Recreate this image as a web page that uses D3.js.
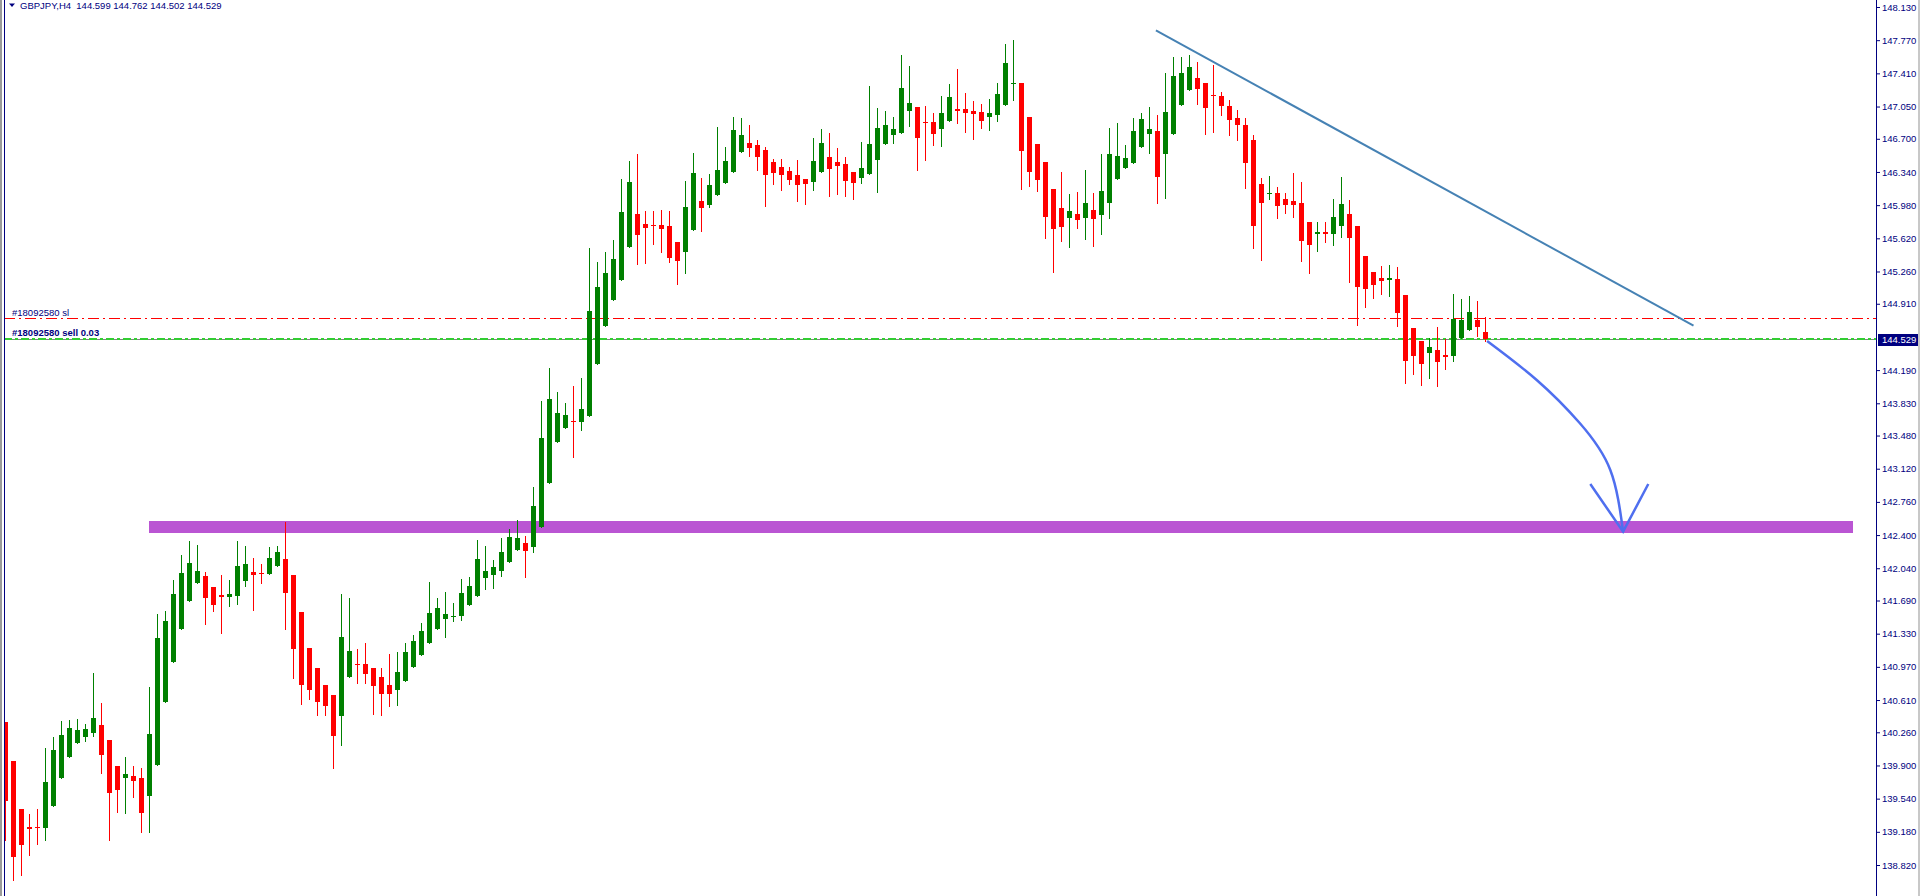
<!DOCTYPE html>
<html><head><meta charset="utf-8">
<script src="https://cdn.jsdelivr.net/npm/d3@7"></script>
<style>
html,body{margin:0;padding:0;background:#fff;overflow:hidden;}
svg{display:block;}
</style></head><body>
<svg id="c" width="1920" height="896"></svg>
<script>
// ---------- DATA ----------
const symbolLabel = "GBPJPY,H4";
const lastQuote = [144.599, 144.762, 144.502, 144.529];

const opens = [140.375,139.948,139.428,139.235,139.235,139.221,139.460,139.764,139.992,140.144,
140.209,140.252,140.339,140.176,139.894,139.764,139.786,139.764,139.569,139.905,
140.589,141.023,141.381,141.685,141.880,141.956,141.836,141.750,141.728,141.739,
141.902,141.999,141.988,141.978,142.064,142.140,141.967,141.565,141.175,140.958,
140.773,140.665,140.441,140.863,141.001,141.001,140.958,140.860,140.773,140.724,
140.821,140.968,141.099,141.229,141.381,141.493,141.511,141.522,141.641,141.739,
141.934,141.967,142.010,142.108,142.238,142.314,142.271,142.493,142.965,143.410,
143.562,143.638,143.627,143.692,144.256,144.669,144.951,145.168,145.526,145.884,
145.775,145.765,145.765,145.754,145.580,145.472,145.710,146.025,145.981,146.090,
146.220,146.340,146.557,146.654,146.633,146.578,146.448,146.394,146.350,146.307,
146.264,146.231,146.340,146.502,146.448,146.426,146.340,146.275,146.318,146.470,
146.643,146.741,146.763,147.002,147.045,146.885,146.882,146.806,146.893,147.023,
147.023,147.002,146.991,146.936,146.958,147.067,147.295,147.305,146.936,146.643,
146.448,146.155,145.949,145.840,145.884,145.840,145.927,145.873,146.003,146.264,
146.383,146.437,146.611,146.752,146.784,146.535,146.752,147.067,147.229,147.360,
147.305,147.175,147.164,147.056,146.926,146.850,146.687,146.209,146.104,146.112,
146.047,146.025,146.003,145.797,145.670,145.689,145.670,145.757,145.884,145.754,
145.428,145.254,145.189,145.171,145.179,145.005,144.647,144.506,144.379,144.408,
144.354,144.346,144.542,144.628,144.734,144.599];

const highs = [140.375,139.948,139.428,139.373,139.428,140.089,140.209,140.382,140.393,140.404,
140.350,140.903,140.578,140.176,139.894,139.992,139.894,139.872,140.751,141.543,
141.576,141.912,142.184,142.336,142.292,141.999,141.836,141.967,141.912,142.336,
142.281,142.151,142.086,142.270,142.281,142.545,141.967,141.565,141.175,140.958,
140.773,140.665,141.761,141.717,141.164,141.229,140.958,140.958,141.109,141.131,
141.229,141.316,141.446,141.891,141.717,141.782,141.663,141.923,141.945,142.346,
142.281,142.129,142.368,142.466,142.563,142.390,142.922,143.855,144.213,143.952,
143.833,144.018,144.104,145.515,145.363,145.472,145.602,146.264,146.459,146.535,
145.916,145.916,145.927,145.916,145.580,146.242,146.546,146.275,146.318,146.828,
146.611,146.936,146.926,146.850,146.687,146.611,146.481,146.481,146.394,146.470,
146.264,146.709,146.806,146.763,146.600,146.502,146.340,146.665,147.273,147.034,
147.002,146.936,147.609,147.490,147.045,147.056,146.980,147.164,147.295,147.457,
147.197,147.110,147.077,147.132,147.305,147.729,147.772,147.305,146.936,146.643,
146.448,146.155,146.340,146.101,146.123,146.361,146.112,146.535,146.817,146.871,
146.633,146.926,146.980,147.045,146.958,147.414,147.587,147.587,147.609,147.533,
147.305,147.501,147.208,147.121,147.012,146.926,146.741,146.275,146.296,146.177,
146.112,146.329,146.231,145.797,145.797,145.797,146.047,146.285,146.036,145.754,
145.428,145.254,145.320,145.330,145.309,145.005,144.647,144.506,144.542,144.658,
144.527,145.016,144.962,144.994,144.940,144.762];

const lows = [139.091,138.657,138.711,138.928,139.048,139.091,139.460,139.764,139.992,140.144,
140.165,140.220,139.818,139.091,139.395,139.384,139.558,139.178,139.178,139.905,
140.589,141.023,141.381,141.685,141.880,141.435,141.576,141.337,141.630,141.652,
141.847,141.587,141.880,141.978,142.064,141.381,140.849,140.567,140.621,140.448,
140.448,139.872,140.122,140.863,140.800,140.800,140.463,140.448,140.545,140.559,
140.821,140.968,141.099,141.229,141.381,141.294,141.468,141.478,141.641,141.739,
141.815,141.826,141.956,142.108,142.238,141.945,142.216,142.493,142.965,143.410,
143.562,143.247,143.540,143.692,144.256,144.669,144.951,145.168,145.526,145.341,
145.352,145.558,145.472,145.363,145.124,145.244,145.710,145.699,145.960,146.090,
146.220,146.340,146.557,146.513,146.361,145.971,146.209,146.144,146.209,146.025,
145.992,146.144,146.340,146.079,146.101,146.079,146.047,146.220,146.318,146.123,
146.643,146.654,146.763,146.839,146.361,146.470,146.633,146.622,146.893,146.871,
146.774,146.698,146.817,146.795,146.893,147.067,147.121,146.155,146.188,146.133,
145.623,145.254,145.591,145.526,145.732,145.613,145.537,145.667,145.840,146.264,
146.383,146.437,146.611,146.546,146.003,146.058,146.752,147.067,147.229,147.077,
146.752,146.774,146.958,146.741,146.687,146.169,145.515,145.385,146.047,145.840,
145.895,145.851,145.377,145.247,145.486,145.583,145.551,145.638,145.149,144.683,
144.878,144.976,145.019,144.997,144.672,144.053,144.151,144.032,144.108,144.021,
144.205,144.292,144.542,144.628,144.563,144.502];

const closes = [139.514,138.910,139.037,139.211,139.225,139.721,140.068,140.231,140.306,140.288,
140.296,140.415,140.013,139.601,139.634,139.807,139.731,139.384,140.241,141.283,
141.468,141.761,141.988,142.097,142.010,141.717,141.641,141.728,141.761,142.064,
142.086,141.967,141.978,142.151,142.216,141.771,141.164,140.773,140.719,140.589,
140.545,140.220,141.294,141.142,140.990,140.897,140.767,140.675,140.675,140.914,
141.131,141.250,141.359,141.554,141.609,141.543,141.527,141.771,141.847,142.140,
142.010,142.053,142.216,142.379,142.368,142.227,142.715,143.453,143.876,143.725,
143.703,143.627,143.768,144.831,145.092,145.244,145.396,145.906,146.231,145.656,
145.732,145.754,145.721,145.406,145.374,145.960,146.329,145.949,146.199,146.361,
146.459,146.795,146.741,146.600,146.502,146.307,146.329,146.307,146.253,146.199,
146.209,146.459,146.654,146.372,146.405,146.242,146.220,146.383,146.643,146.817,
146.850,146.806,147.251,147.088,146.709,146.875,146.752,146.980,147.153,147.002,
146.980,146.969,146.893,146.980,147.186,147.522,147.305,146.568,146.340,146.253,
145.851,145.721,145.743,145.916,145.819,146.003,145.830,146.133,146.535,146.513,
146.492,146.784,146.915,146.806,146.285,146.991,147.381,147.414,147.479,147.240,
147.034,147.164,147.056,146.904,146.850,146.441,145.754,146.006,146.115,145.974,
145.981,145.981,145.594,145.548,145.689,145.670,145.851,145.992,145.627,145.095,
145.073,145.117,145.160,145.193,144.813,144.292,144.346,144.259,144.441,144.281,
144.335,144.745,144.734,144.824,144.661,144.529];

const priceTicks = [148.130,147.770,147.410,147.050,146.700,146.340,145.980,145.620,145.260,144.910,
144.190,143.830,143.480,143.120,142.760,142.400,142.040,141.690,141.330,140.970,
140.610,140.260,139.900,139.540,139.180,138.820,138.460];

const bidPrice = 144.529;
const orderPrice = 144.540;
const stopPrice = 144.752;
const orderLabels = ["#18092580 sl", "#18092580 sell 0.03"];

// annotation objects, in (bar index, price) units
const zoneBars = [17.94, 230.94];
const zonePrices = [142.422, 142.553];
const trendBars = [143.8, 211.0];
const trendPrices = [147.877, 144.672];
const arrowBars = [185.2, 191.4, 196.8, 200.6, 202.2];
const arrowPrices = [144.506, 144.083, 143.613, 143.106, 142.437];
const arrowHeadBars = [198.1, 202.2, 205.35];
const arrowHeadPrices = [142.954, 142.437, 142.954];

// ---------- CHART ----------
const W = 1920, H = 896, axisX = 1876;
const navy = "#000080";
const svg = d3.select("#c");
svg.append("rect").attr("width", W).attr("height", H).attr("fill", "#fff");

const x = d3.scaleLinear().domain([0, 1]).range([5.5, 13.5]);
const y = d3.scaleLinear().domain([148.13, 138.82]).range([7, 865]);

const defs = svg.append("defs");
defs.append("clipPath").attr("id", "plot").append("rect")
  .attr("x", 5).attr("y", 0).attr("width", axisX - 5).attr("height", H);

const plot = svg.append("g").attr("clip-path", "url(#plot)");

// purple support zone
plot.append("rect")
  .attr("x", Math.round(x(zoneBars[0])))
  .attr("y", Math.round(y(zonePrices[1])))
  .attr("width", Math.round(x(zoneBars[1])) - Math.round(x(zoneBars[0])))
  .attr("height", Math.round(y(zonePrices[0])) - Math.round(y(zonePrices[1])))
  .attr("fill", "#BA55D3");

// order lines
const ry = v => Math.round(y(v)) + 0.5;
plot.append("line").attr("x1", 4).attr("x2", axisX).attr("y1", ry(stopPrice)).attr("y2", ry(stopPrice))
  .attr("stroke", "#ff0000").attr("stroke-width", 1).attr("stroke-dasharray", "11,4,2,4");
plot.append("line").attr("x1", 4).attr("x2", axisX).attr("y1", ry(bidPrice)).attr("y2", ry(bidPrice))
  .attr("stroke", "#808080").attr("stroke-width", 1);
plot.append("line").attr("x1", 4).attr("x2", axisX).attr("y1", Math.round(y(orderPrice)) + 1).attr("y2", Math.round(y(orderPrice)) + 1)
  .attr("stroke", "#32CD32").attr("stroke-width", 2).attr("stroke-dasharray", "8,3,3,3");

// candles
const idx = d3.range(opens.length);
const cg = plot.append("g");
const candle = cg.selectAll("g").data(idx).join("g")
  .attr("fill", i => closes[i] >= opens[i] ? "#008000" : "#ff0000");
candle.append("rect")
  .attr("x", i => x(i) - 0.5)
  .attr("y", i => Math.round(y(highs[i])))
  .attr("width", 1)
  .attr("height", i => Math.max(1, Math.round(y(lows[i])) - Math.round(y(highs[i])) + 1));
candle.append("rect")
  .attr("x", i => x(i) - 2.5)
  .attr("y", i => Math.round(y(Math.max(opens[i], closes[i]))))
  .attr("width", 5)
  .attr("height", i => Math.max(1, Math.round(y(Math.min(opens[i], closes[i]))) - Math.round(y(Math.max(opens[i], closes[i])))));

// trend line
plot.append("line")
  .attr("x1", x(trendBars[0])).attr("y1", y(trendPrices[0]))
  .attr("x2", x(trendBars[1])).attr("y2", y(trendPrices[1]))
  .attr("stroke", "#4682B4").attr("stroke-width", 2);

// curved arrow
const arrowPts = arrowBars.map((b, k) => [x(b), y(arrowPrices[k])]);
plot.append("path")
  .attr("d", d3.line().curve(d3.curveNatural)(arrowPts))
  .attr("fill", "none").attr("stroke", "#4F6FEF").attr("stroke-width", 2.5);
const headPts = arrowHeadBars.map((b, k) => [x(b), y(arrowHeadPrices[k])]);
plot.append("path")
  .attr("d", d3.line()(headPts))
  .attr("fill", "none").attr("stroke", "#4F6FEF").attr("stroke-width", 2.5)
  .attr("stroke-linejoin", "miter");

// order labels
const labelFont = "'Liberation Sans', Arial, sans-serif";
svg.append("text").attr("x", 12).attr("y", Math.round(y(stopPrice)) - 2)
  .attr("font-family", labelFont).attr("font-size", "9.5px").attr("fill", navy)
  .text(orderLabels[0]);
svg.append("text").attr("x", 12).attr("y", Math.round(y(orderPrice)) - 2)
  .attr("font-family", labelFont).attr("font-size", "9.5px").attr("font-weight", "bold").attr("fill", navy)
  .text(orderLabels[1]);

// header
svg.append("path").attr("d", "M9,3.5 L15,3.5 L12,7 Z").attr("fill", navy);
svg.append("text").attr("x", 20).attr("y", 8.5)
  .attr("font-family", labelFont).attr("font-size", "9.5px").attr("fill", navy)
  .attr("xml:space", "preserve")
  .text(symbolLabel + "  " + lastQuote.map(d3.format(".3f")).join(" "));

// frame
svg.append("rect").attr("x", 0).attr("y", 0).attr("width", 2).attr("height", H).attr("fill", "#9a9a9a");
svg.append("line").attr("x1", 4.5).attr("x2", 4.5).attr("y1", 0).attr("y2", H).attr("stroke", navy);
svg.append("rect").attr("x", 1918).attr("y", 0).attr("width", 2).attr("height", H).attr("fill", "#c8c8c8");

// price axis
const yAxis = d3.axisRight(y).tickValues(priceTicks).tickSize(4).tickPadding(2)
  .tickFormat(d3.format(".3f"));
const ax = svg.append("g").attr("transform", `translate(${axisX},0)`).call(yAxis);
ax.select(".domain").remove();
ax.selectAll(".tick line").attr("stroke", navy);
ax.selectAll(".tick text").attr("fill", navy).attr("font-family", labelFont).attr("font-size", "9.5px");
svg.append("line").attr("x1", axisX + 0.5).attr("x2", axisX + 0.5).attr("y1", 0).attr("y2", H).attr("stroke", navy);

// current price tag
const tagY = Math.round(y(bidPrice));
svg.append("rect").attr("x", 1878).attr("y", tagY - 5).attr("width", 40).attr("height", 12).attr("fill", navy);
svg.append("text").attr("x", 1882).attr("y", tagY + 1).attr("dy", "0.32em")
  .attr("font-family", labelFont).attr("font-size", "9.5px").attr("fill", "#fff")
  .text(d3.format(".3f")(bidPrice));
</script>
</body></html>
